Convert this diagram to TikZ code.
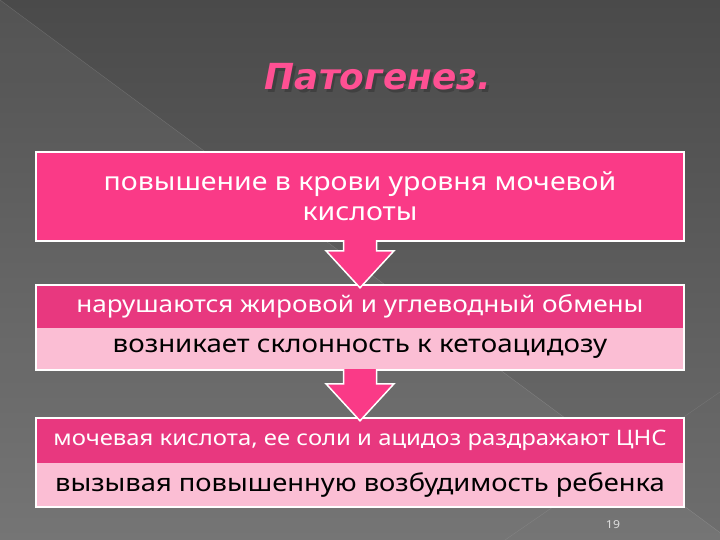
\documentclass[tikz,border=0pt]{standalone}
\usepackage{fontspec}
\setmainfont{Noto Sans}[FakeStretch=1.12]
\newfontfamily\titlefont{DejaVu Sans}
\usepackage{tikz}
\usetikzlibrary{calc}
\definecolor{bgtop}{HTML}{4A4A4A}
\definecolor{bgbottom}{HTML}{6E6E6E}
\definecolor{hotpink}{HTML}{FA3A87}
\definecolor{deeppink}{HTML}{E8387F}
\definecolor{palepink}{HTML}{FBBED4}
\definecolor{titlepink}{HTML}{FF5093}
\tikzset{
    band/.style=
    { % Sets the properties for each band of a box
        rectangle,
        minimum width=648bp,
        inner sep=0pt,
        align=center,
        text=white
    },
    darkband/.style={band, fill=deeppink},
    lightband/.style={band, fill=palepink, text=black}, % Black text on the pale part
    frame/.style={draw=white, line width=1.5bp},
    blockarrow/.style={ % Sets the properties for the thick arrows
        fill=hotpink,
        draw=white,
        line width=1.5bp,
        line join=miter
    }
}
% Thick downward arrow from one box to the next
\newcommand{\flowarrow}[2]{%
    \filldraw[blockarrow] let \p1=(#1.south), \p2=(#2.north) in
        (\x1-16.5bp,\y1+1bp) -- (\x1-16.5bp,\y2+34bp) -- (\x1-34bp,\y2+34bp)
        -- (\x2,\y2-3bp) -- (\x1+34bp,\y2+34bp) -- (\x1+16.5bp,\y2+34bp)
        -- (\x1+16.5bp,\y1+1bp);
}

\begin{document}
\begin{tikzpicture}[x=1bp,y=-1bp]
\useasboundingbox (0,0) rectangle (720,540);
\shade[top color=bgtop, bottom color=bgbottom] (0,0) rectangle (720,540);
\fill[white, opacity=0.05] (0,0) -- (730,540) -- (0,540) -- cycle;
\draw[white, opacity=0.15] (0,0) -- (730,540);
\draw[white, opacity=0.1] (505,540) -- (720,392);

\node[text=black!75, font=\titlefont\bfseries\itshape\fontsize{36}{42}\selectfont] at (380.5,79.5) {Патогенез.};
\node[text=titlepink, font=\titlefont\bfseries\itshape\fontsize{36}{42}\selectfont] (title) at (378,77) {Патогенез.};

\node[darkband, fill=hotpink, minimum height=89bp, font=\fontsize{25.5}{30}\selectfont] (box1) at (360,196.5)
    {повышение в крови уровня мочевой\\ кислоты};

\node[darkband, minimum height=43bp, font=\fontsize{23.4}{28}\selectfont] (box2a) at (360,306.5)
    {нарушаются жировой и углеводный обмены};
\node[lightband, minimum height=42bp, font=\fontsize{24.8}{30}\selectfont] (box2b) at (360,349)
    {возникает склонность к кетоацидозу};

\node[darkband, minimum height=45bp, font=\fontsize{21.4}{26}\selectfont] (box3a) at (360,440.5)
    {мочевая кислота, ее соли и ацидоз раздражают ЦНС};
\node[lightband, minimum height=44bp, font=\fontsize{24.5}{30}\selectfont] (box3b) at (360,485)
    {вызывая повышенную возбудимость ребенка};

\draw[frame] (box1.north west) rectangle (box1.south east);
\draw[frame] (box2a.north west) rectangle (box2b.south east);
\draw[frame] (box3a.north west) rectangle (box3b.south east);

\flowarrow{box1}{box2a}
\flowarrow{box2b}{box3a}

\node[text=gray!25, font=\fontsize{11}{13}\selectfont] (pagenum) at (613,525) {19};
\end{tikzpicture}
\end{document}
